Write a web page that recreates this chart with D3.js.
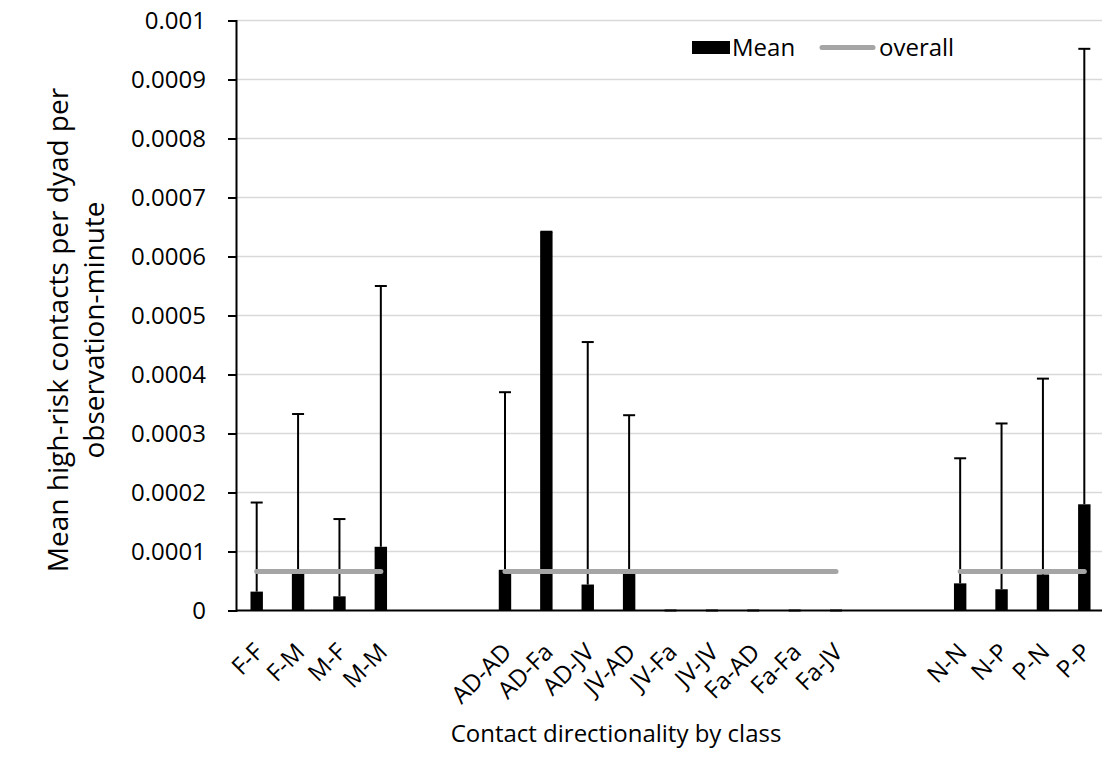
<!DOCTYPE html>
<html>
<head>
<meta charset="utf-8">
<script src="https://cdn.jsdelivr.net/npm/d3@7"></script>
<style>
  html, body { margin: 0; padding: 0; background: #fff; }
  svg { display: block; font-family: "Open Sans", sans-serif; }
</style>
</head>
<body>
<svg id="chart" width="1102" height="763"></svg>
<script>
// Contact pairs, grouped by class (sex, age class, infection state)
const sexPairs   = ["F-F", "F-M", "M-F", "M-M"];
const agePairs   = ["AD-AD", "AD-Fa", "AD-JV", "JV-AD", "JV-Fa", "JV-JV", "Fa-AD", "Fa-Fa", "Fa-JV"];
const statePairs = ["N-N", "N-P", "P-N", "P-P"];

// Mean high-risk contacts per dyad per observation-minute
const sexMean   = [0.000032, 0.000062, 0.000024, 0.000108];
const ageMean   = [0.000069, 0.000642, 0.000044, 0.000062, 0, 0, 0, 0, 0];
const stateMean = [0.000046, 0.000036, 0.000061, 0.000180];

// Upper error (standard deviation)
const sexSD   = [0.000151, 0.000271, 0.000131, 0.000442];
const ageSD   = [0.000301, 0, 0.000411, 0.000269, 0, 0, 0, 0, 0];
const stateSD = [0.000212, 0.000281, 0.000332, 0.000772];

// Overall mean across all dyads
const overallMean = 0.000066;

// Empty slots left between class groups
const gapSlots = 2;

// Y axis ticks
const yTickValues = [0, 0.0001, 0.0002, 0.0003, 0.0004, 0.0005, 0.0006, 0.0007, 0.0008, 0.0009, 0.001];
const yTickLabels = ["0", "0.0001", "0.0002", "0.0003", "0.0004", "0.0005", "0.0006", "0.0007", "0.0008", "0.0009", "0.001"];

const groups = [
  { cats: sexPairs,   mean: sexMean,   sd: sexSD },
  { cats: agePairs,   mean: ageMean,   sd: ageSD },
  { cats: statePairs, mean: stateMean, sd: stateSD }
];

// Build the slot domain, with blank spacer slots between groups
const slots = [];
const records = [];
groups.forEach((g, gi) => {
  if (gi > 0) for (let k = 0; k < gapSlots; k++) slots.push(`__spacer${gi}_${k}`);
  g.cats.forEach((c, i) => {
    slots.push(c);
    records.push({ cat: c, mean: g.mean[i], sd: g.sd[i], group: gi });
  });
});

const svg = d3.select("#chart");
const margin = { left: 236, right: -3, top: 20.5, bottom: 152.5 };
const W = 1102, H = 763;
const x0 = margin.left, x1 = W - margin.right;
const y0 = H - margin.bottom, y1 = margin.top;

const x = d3.scaleBand().domain(slots).range([x0, x1]).paddingInner(0.7).paddingOuter(0.35);
const y = d3.scaleLinear().domain([0, 0.001]).range([y0, y1]);
const cx = d => x(d) + x.bandwidth() / 2;

// Gridlines
svg.append("g")
  .selectAll("line")
  .data(yTickValues.slice(1))
  .join("line")
  .attr("x1", x0).attr("x2", x1)
  .attr("y1", d => y(d)).attr("y2", d => y(d))
  .attr("stroke", "#d9d9d9").attr("stroke-width", 1.5);

// Bars
svg.append("g")
  .selectAll("rect")
  .data(records)
  .join("rect")
  .attr("x", d => x(d.cat))
  .attr("width", x.bandwidth())
  .attr("y", d => y(d.mean))
  .attr("height", d => y0 - y(d.mean))
  .attr("fill", "#000");

// Error bars (upper only)
const eb = svg.append("g").attr("stroke", "#000").attr("stroke-width", 2);
eb.selectAll("line.whisker")
  .data(records)
  .join("line")
  .attr("class", "whisker")
  .attr("x1", d => cx(d.cat)).attr("x2", d => cx(d.cat))
  .attr("y1", d => y(d.mean)).attr("y2", d => y(d.mean + d.sd));
eb.selectAll("line.cap")
  .data(records)
  .join("line")
  .attr("class", "cap")
  .attr("x1", d => cx(d.cat) - 6).attr("x2", d => cx(d.cat) + 6)
  .attr("y1", d => y(d.mean + d.sd)).attr("y2", d => y(d.mean + d.sd));

// Overall mean line, one segment per class group
svg.append("g")
  .selectAll("line")
  .data(groups)
  .join("line")
  .attr("x1", g => cx(g.cats[0]))
  .attr("x2", g => cx(g.cats[g.cats.length - 1]))
  .attr("y1", y(overallMean)).attr("y2", y(overallMean))
  .attr("stroke", "#a5a5a5").attr("stroke-width", 5).attr("stroke-linecap", "round");

// Y axis
const yAxis = d3.axisLeft(y)
  .tickValues(yTickValues)
  .tickFormat((d, i) => yTickLabels[i])
  .tickSize(8)
  .tickPadding(22);
const yg = svg.append("g").attr("transform", `translate(${x0},0)`).call(yAxis);
yg.select(".domain").attr("stroke", "#000").attr("stroke-width", 2);
yg.selectAll(".tick line").attr("stroke", "#000").attr("stroke-width", 2);
yg.selectAll(".tick text")
  .attr("font-family", "Open Sans, sans-serif")
  .attr("font-size", 24).attr("fill", "#000");

// X axis
const xAxis = d3.axisBottom(x)
  .tickSize(0)
  .tickFormat(d => d.startsWith("__spacer") ? "" : d);
const xg = svg.append("g").attr("transform", `translate(0,${y0})`).call(xAxis);
xg.select(".domain").attr("stroke", "#000").attr("stroke-width", 2).attr("d", `M${x0},0H${x1}`);
xg.selectAll(".tick text")
  .attr("font-family", "Open Sans, sans-serif")
  .attr("font-size", 24).attr("fill", "#000")
  .attr("text-anchor", "end")
  .attr("x", 0).attr("y", 0).attr("dy", "0.71em")
  .attr("transform", "translate(-4,31) rotate(-45)");

// Axis titles
svg.append("text")
  .attr("x", 616).attr("y", 742)
  .attr("text-anchor", "middle")
  .attr("font-size", 24).attr("fill", "#000")
  .text("Contact directionality by class");

const yTitle = svg.append("text")
  .attr("transform", "translate(0,330) rotate(-90)")
  .attr("text-anchor", "middle")
  .attr("font-size", 28).attr("fill", "#000");
yTitle.append("tspan").attr("x", 0).attr("y", 68).text("Mean high-risk contacts per dyad per");
yTitle.append("tspan").attr("x", 0).attr("y", 104).text("observation-minute");

// Legend
const lg = svg.append("g");
lg.append("rect").attr("x", 692).attr("y", 41).attr("width", 38).attr("height", 13).attr("fill", "#000");
lg.append("text").attr("x", 732).attr("y", 56).attr("font-size", 24).attr("fill", "#000").text("Mean");
lg.append("line").attr("x1", 822).attr("x2", 873).attr("y1", 47.5).attr("y2", 47.5)
  .attr("stroke", "#a5a5a5").attr("stroke-width", 5).attr("stroke-linecap", "round");
lg.append("text").attr("x", 879).attr("y", 56).attr("font-size", 24).attr("fill", "#000").text("overall");
</script>
</body>
</html>
